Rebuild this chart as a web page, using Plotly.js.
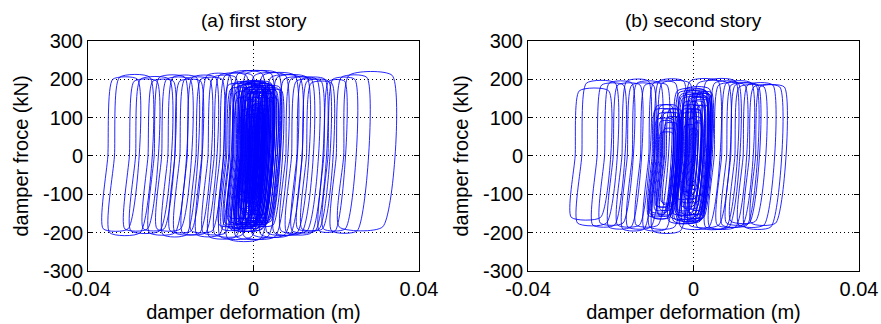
<!DOCTYPE html>
<html><head><meta charset="utf-8">
<script src="https://cdn.plot.ly/plotly-3.0.1.min.js"></script>
<style>html,body{margin:0;padding:0;background:#fff}#chart{width:881px;height:324px}</style>
</head><body><div id="chart"></div>
<script>
// Hysteresis loops: x at zero force of the left / right side (m),
// plateau force at top / bottom (kN). One entry per loop.
// --- first story: large yielding loops
const s1Left  = [-0.0352,-0.0336,-0.0300,-0.0285,-0.0255,-0.0240,-0.0222,-0.0207,-0.0190,-0.0178,-0.0160,-0.0139,-0.0125,-0.0110,-0.0095,-0.0081,-0.0068,-0.0050,
                 -0.0030,-0.0010,0.0010,0.0030,0.0045,0.0062,0.0078,0.0092,0.0105,0.0118,0.0128,0.0170,0.0180,0.0200,0.0218];
const s1Right = [-0.0292,-0.0262,-0.0245,-0.0215,-0.0205,-0.0178,-0.0165,-0.0150,-0.0139,-0.0118,-0.0104,-0.0088,-0.0070,-0.0055,-0.0030,-0.0015,0.0008,0.0030,
                 0.0047,0.0065,0.0088,0.0100,0.0117,0.0128,0.0141,0.0152,0.0161,0.0170,0.0178,0.0209,0.0233,0.0262,0.0323];
const s1Top   = [200,205,195,200,195,205,200,205,195,200,205,200,210,205,210,210,215,215,
                 215,210,210,205,205,200,200,195,200,195,190,195,200,205,210];
const s1Bot   = [-190,-200,-190,-195,-190,-200,-190,-205,-195,-200,-200,-195,-205,-200,-210,-205,-210,-215,
                 -210,-210,-205,-205,-200,-200,-195,-200,-195,-190,-190,-195,-190,-195,-185];
// --- first story: dense small loops near zero deformation
const s1cLeft  = [-0.0040,-0.0035,-0.0030,-0.0028,-0.0025,-0.0022,-0.0020,-0.0018,-0.0015,-0.0012,-0.0010,-0.0008,-0.0005,-0.0003,0.0000,0.0002,0.0005,0.0008,
                  -0.0045,-0.0038,-0.0032,-0.0020,-0.0012,-0.0004,0.0003,-0.0016,-0.0008,-0.0050,-0.0026,0.0010,-0.0060,0.0015,
                  -0.0036,-0.0033,-0.0029,-0.0026,-0.0023,-0.0019,-0.0017,-0.0013,-0.0011,-0.0007,-0.0006,-0.0002,0.0001,0.0004,0.0007,-0.0042,-0.0027,-0.0021,-0.0014,-0.0009,-0.0001,0.0006,-0.0031,-0.0024,0.0012,
                  -0.0072,-0.0065,-0.0058,-0.0052,0.0018,0.0022,0.0026,-0.0048];
const s1cRight = [-0.0005,0.0010,0.0000,0.0015,0.0005,0.0020,0.0008,0.0025,0.0012,0.0030,0.0015,0.0022,0.0035,0.0018,0.0028,0.0040,0.0025,0.0045,
                  0.0020,0.0030,-0.0008,0.0000,0.0006,0.0012,0.0017,0.0008,0.0018,0.0012,0.0033,0.0038,-0.0002,0.0050,
                  -0.0002,0.0006,0.0012,-0.0004,0.0016,0.0004,0.0019,0.0009,0.0026,0.0013,0.0029,0.0021,0.0033,0.0027,0.0036,0.0008,0.0002,0.0011,0.0003,0.0010,0.0015,0.0020,0.0022,0.0031,0.0042,
                  -0.0030,-0.0022,-0.0018,-0.0010,0.0052,0.0058,0.0048,-0.0015];
const s1cTop   = [185,175,160,190,150,170,140,180,130,175,120,160,185,110,150,180,130,170,
                  190,185,120,100,90,80,95,165,60,180,160,140,185,175,
                  170,185,175,145,180,125,165,150,185,135,170,155,185,120,165,190,105,115,75,100,70,110,175,190,160,
                  185,175,190,165,180,170,150,150];
const s1cBot   = [-175,-185,-170,-180,-160,-175,-150,-185,-140,-170,-130,-165,-175,-120,-160,-180,-125,-175,
                  -190,-190,-110,-95,-100,-85,-90,-60,-170,-170,-190,-150,-180,-165,
                  -160,-175,-185,-135,-170,-145,-180,-120,-165,-150,-185,-140,-170,-160,-150,-185,-115,-105,-80,-95,-110,-70,-180,-175,-175,
                  -180,-190,-175,-185,-170,-180,-160,-160];

// --- second story: large yielding loops
const s2Left  = [-0.0286,-0.0270,-0.0233,-0.0215,-0.0194,-0.0173,-0.0160,-0.0148,-0.0128,-0.0108,-0.0095,-0.0087,
                 -0.0020,0.0000,0.0020,0.0040,0.0050,0.0068,0.0080,0.0090,0.0100,0.0120,0.0135,0.0150];
const s2Right = [-0.0215,-0.0200,-0.0180,-0.0160,-0.0140,-0.0120,-0.0108,-0.0092,-0.0075,-0.0055,-0.0035,-0.0020,
                 0.0048,0.0072,0.0090,0.0097,0.0113,0.0129,0.0140,0.0145,0.0160,0.0181,0.0198,0.0209];
const s2Top   = [170,190,185,190,185,195,185,190,185,190,195,190,
                 195,190,195,190,185,190,185,185,180,185,180,180];
const s2Bot   = [-160,-175,-180,-175,-185,-180,-190,-185,-180,-190,-185,-195,
                 -185,-180,-185,-185,-185,-180,-180,-175,-170,-180,-185,-175];
// --- second story: dense small loops (band near -0.007 and core near zero)
const s2cLeft  = [-0.0097,-0.0090,-0.0085,-0.0080,-0.0075,-0.0070,-0.0100,-0.0094,-0.0088,-0.0083,-0.0078,-0.0072,-0.0066,
                  -0.0049,-0.0040,-0.0035,-0.0030,-0.0027,-0.0022,-0.0018,-0.0014,-0.0010,-0.0006,-0.0002,0.0002,-0.0025,-0.0012,0.0000,-0.0033,-0.0016,
                  -0.0045,-0.0038,-0.0031,-0.0026,-0.0020,-0.0017,-0.0011,-0.0008,-0.0004,0.0000,0.0004,-0.0029,-0.0015,-0.0036];
const s2cRight = [-0.0060,-0.0052,-0.0058,-0.0045,-0.0050,-0.0040,-0.0064,-0.0055,-0.0048,-0.0054,-0.0042,-0.0047,-0.0038,
                  0.0020,0.0005,0.0015,0.0000,0.0025,0.0008,0.0020,0.0010,0.0030,0.0016,0.0024,0.0034,-0.0003,0.0004,0.0014,0.0012,0.0028,
                  0.0010,0.0022,0.0006,0.0018,0.0002,0.0026,0.0008,0.0022,0.0012,0.0030,0.0026,0.0028,0.0016,-0.0004];
const s2cTop   = [130,110,90,120,70,100,120,95,130,60,110,85,120,
                  170,160,150,140,165,120,155,100,160,130,145,165,80,70,90,110,150,
                  165,155,130,170,95,160,120,150,85,160,130,175,140,120];
const s2cBot   = [-150,-160,-140,-130,-155,-120,-155,-145,-160,-130,-150,-140,-125,
                  -170,-150,-165,-140,-160,-130,-150,-110,-165,-120,-150,-160,-90,-75,-85,-150,-100,
                  -160,-170,-145,-155,-120,-170,-95,-160,-110,-150,-140,-165,-135,-110];

const xTickVals = [-0.04, 0, 0.04];
const xTickText = ['-0.04', '0', '0.04'];
const yTickVals = [-300, -200, -100, 0, 100, 200, 300];
const yTickText = ['-300', '-200', '-100', '0', '100', '200', '300'];
const titles = ['(a) first story', '(b) second story'];
const xTitle = 'damper deformation (m)';
const yTitle = 'damper froce (kN)';

const K = 170000; // elastic stiffness (kN/m): slant of the loop sides

function buildPath(L, R, T, B) {
  const xs = [], ys = [];
  for (let i = 0; i < L.length; i++) {
    const l = L[i], r = R[i], t = T[i], b = B[i];
    xs.push(l, l + t / K, r + t / K, r + b / K, l + b / K, l, null);
    ys.push(0, t, t, b, b, 0, null);
  }
  return {xs, ys};
}

const p1 = buildPath(s1Left, s1Right, s1Top, s1Bot);
const p1c = buildPath(s1cLeft, s1cRight, s1cTop, s1cBot);
const p2 = buildPath(s2Left, s2Right, s2Top, s2Bot);
const p2c = buildPath(s2cLeft, s2cRight, s2cTop, s2cBot);

const outerLine = {color: 'rgb(0,0,255)', width: 0.85, shape: 'spline', smoothing: 0.6};
const coreLine = {color: 'rgb(0,0,255)', width: 0.9, shape: 'spline', smoothing: 0.6};
function tr(p, line, xa, ya) {
  return {x: p.xs, y: p.ys, type: 'scatter', mode: 'lines', line, xaxis: xa, yaxis: ya, hoverinfo: 'skip', connectgaps: false};
}
const traces = [
  tr(p1, outerLine, 'x', 'y'), tr(p1c, coreLine, 'x', 'y'),
  tr(p2, outerLine, 'x2', 'y2'), tr(p2c, coreLine, 'x2', 'y2')
];

const FONT = 'Liberation Sans, Arial, Helvetica, sans-serif';
function xAx(domain) {
  return {domain, range: [-0.04, 0.04], tickvals: xTickVals, ticktext: xTickText,
    ticks: 'inside', ticklen: 5, tickcolor: '#000', showline: true, linecolor: '#000', linewidth: 1, mirror: 'ticks',
    showgrid: true, gridcolor: '#000', gridwidth: 1, griddash: '1px,3px', zeroline: false,
    tickfont: {family: FONT, size: 20, color: '#000'},
    title: {text: xTitle, font: {family: FONT, size: 20, color: '#000'}, standoff: 6}, automargin: false, fixedrange: true};
}
function yAx(anchor) {
  return {domain: [0.1636, 0.8735], anchor, range: [-300, 300], tickvals: yTickVals, ticktext: yTickText,
    ticks: 'inside', ticklen: 5, tickcolor: '#000', showline: true, linecolor: '#000', linewidth: 1, mirror: 'ticks',
    showgrid: true, gridcolor: '#000', gridwidth: 1, griddash: '1px,3px', zeroline: false,
    tickfont: {family: FONT, size: 20, color: '#000'},
    title: {text: yTitle, font: {family: FONT, size: 20, color: '#000'}, standoff: 8}, automargin: false, fixedrange: true};
}
const xd1 = [88 / 881, 419 / 881], xd2 = [528 / 881, 859 / 881];
const layout = {
  width: 881, height: 324, margin: {l: 0, r: 0, t: 0, b: 0},
  paper_bgcolor: '#fff', plot_bgcolor: '#fff', showlegend: false,
  font: {family: FONT, color: '#000'},
  xaxis: Object.assign(xAx(xd1), {anchor: 'y'}),
  yaxis: yAx('x'),
  xaxis2: Object.assign(xAx(xd2), {anchor: 'y2'}),
  yaxis2: yAx('x2'),
  annotations: [
    {text: titles[0], xref: 'paper', yref: 'paper', x: (xd1[0] + xd1[1]) / 2, y: 1 - 21 / 324, xanchor: 'center', yanchor: 'middle', showarrow: false, font: {family: FONT, size: 19, color: '#000'}},
    {text: titles[1], xref: 'paper', yref: 'paper', x: (xd2[0] + xd2[1]) / 2, y: 1 - 21 / 324, xanchor: 'center', yanchor: 'middle', showarrow: false, font: {family: FONT, size: 19, color: '#000'}}
  ]
};
Plotly.newPlot('chart', traces, layout, {staticPlot: true, displayModeBar: false});
</script></body></html>
